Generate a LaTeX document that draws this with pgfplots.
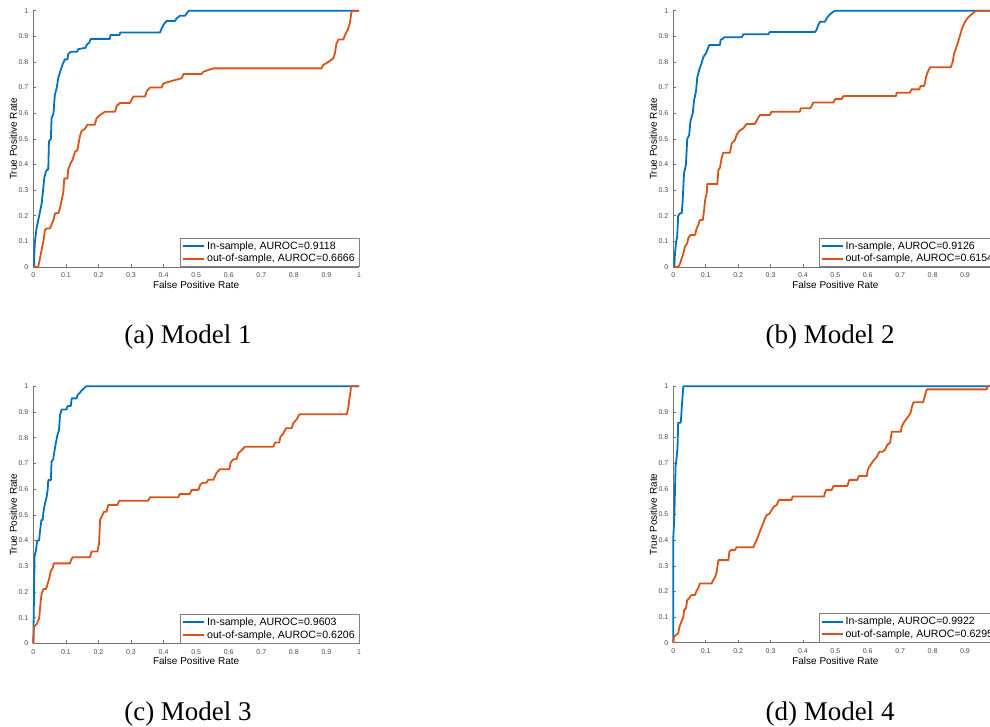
\documentclass[border=0pt]{standalone}
\usepackage{pgfplots}
\pgfplotsset{compat=1.18}
\usepackage{fontspec}
\setmainfont{Liberation Sans}
\newfontfamily\capfont{Liberation Serif}
\definecolor{mblue}{rgb}{0,0.447,0.741}
\definecolor{morange}{rgb}{0.85,0.325,0.098}
\pgfplotsset{
  roc/.style={
    scale only axis, anchor=south west,
    xmin=0, xmax=1, ymin=0, ymax=1, clip=false,
    axis lines*=left,
    axis line style={black!55, line width=0.5pt},
    tick align=inside, major tick length=3pt,
    tick style={black!55, line width=0.5pt},
    xtick={0,0.1,0.2,0.3,0.4,0.5,0.6,0.7,0.8,0.9,1},
    ytick={0,0.1,0.2,0.3,0.4,0.5,0.6,0.7,0.8,0.9,1},
    xticklabels={0,0.1,0.2,0.3,0.4,0.5,0.6,0.7,0.8,0.9,1},
    yticklabels={0,0.1,0.2,0.3,0.4,0.5,0.6,0.7,0.8,0.9,1},
    tick label style={font=\fontsize{7}{8}\selectfont, text=black!70},
    xticklabel style={yshift=-2.5pt},
    yticklabel style={xshift=-1.5pt},
    xlabel={False Positive Rate}, ylabel={True Positive Rate},
    label style={font=\fontsize{8}{9}\selectfont, text=black!70},
    every axis x label/.style={at={(axis description cs:0.5,0)}, anchor=center, yshift=-18pt},
    every axis y label/.style={at={(axis description cs:0,0.5)}, xshift=-20pt, rotate=90, anchor=center},
    legend style={at={(1,0)}, anchor=south east, draw=black!50, line width=0.5pt, fill=white,
      font=\fontsize{10.6}{12}\selectfont, inner xsep=2pt, inner ysep=1.5pt, row sep=-0.5pt,
      cells={anchor=west}},
    legend image code/.code={\draw[#1, line width=1.8pt] (0pt,0pt) -- (21pt,0pt);},
  },
  ib/.style={mblue, line width=1.8pt, line join=round},
  oo/.style={morange, line width=1.8pt, line join=round},
}
\begin{document}
\begin{tikzpicture}[x=1pt,y=1pt]
\useasboundingbox (0,0) rectangle (990,726);
\clip (0,0) rectangle (990,726);

% (a)
\begin{axis}[roc, at={(33.3pt,459pt)}, width=325.7pt, height=256.3pt]
\addplot[ib] coordinates {(0,0) (0.003,0) (0.003,0.05) (0.005,0.1) (0.01,0.15) (0.018,0.2) (0.026,0.25) (0.03,0.3) (0.034,0.35) (0.038,0.37) (0.042,0.38) (0.046,0.38) (0.048,0.49) (0.054,0.5) (0.056,0.58) (0.062,0.6) (0.066,0.67) (0.072,0.7) (0.077,0.74) (0.082,0.76) (0.09,0.79) (0.097,0.81) (0.105,0.81) (0.107,0.83) (0.115,0.84) (0.135,0.84) (0.138,0.85) (0.16,0.855) (0.166,0.87) (0.172,0.875) (0.176,0.89) (0.235,0.89) (0.237,0.905) (0.265,0.905) (0.267,0.915) (0.389,0.915) (0.394,0.93) (0.4,0.945) (0.409,0.96) (0.435,0.96) (0.44,0.97) (0.45,0.98) (0.466,0.98) (0.471,0.99) (0.478,1) (1,1)};
\addlegendentry{In-sample, AUROC=0.9118}
\addplot[oo] coordinates {(0,0) (0.015,0) (0.02,0.03) (0.026,0.07) (0.031,0.1) (0.036,0.145) (0.041,0.15) (0.051,0.15) (0.056,0.165) (0.061,0.18) (0.067,0.21) (0.077,0.21) (0.082,0.23) (0.087,0.26) (0.092,0.29) (0.095,0.345) (0.105,0.345) (0.107,0.38) (0.113,0.4) (0.121,0.42) (0.128,0.45) (0.135,0.455) (0.143,0.51) (0.148,0.53) (0.159,0.54) (0.166,0.555) (0.189,0.555) (0.194,0.58) (0.205,0.593) (0.22,0.606) (0.251,0.606) (0.256,0.628) (0.266,0.64) (0.297,0.64) (0.307,0.665) (0.343,0.665) (0.348,0.685) (0.358,0.70) (0.394,0.70) (0.399,0.716) (0.425,0.726) (0.455,0.736) (0.461,0.753) (0.517,0.753) (0.522,0.762) (0.553,0.775) (0.885,0.775) (0.89,0.788) (0.906,0.80) (0.921,0.814) (0.926,0.834) (0.931,0.873) (0.937,0.888) (0.952,0.888) (0.957,0.905) (0.967,0.93) (0.972,0.953) (0.977,0.996) (0.983,1) (1,1)};
\addlegendentry{out-of-sample, AUROC=0.6666}
\end{axis}

% (b)
\begin{axis}[roc, at={(673.3pt,459pt)}, width=324.1pt, height=256.3pt]
\addplot[ib] coordinates {(0,0) (0.003,0) (0.005,0.05) (0.008,0.09) (0.012,0.12) (0.015,0.2) (0.021,0.21) (0.026,0.21) (0.029,0.26) (0.033,0.365) (0.039,0.40) (0.043,0.5) (0.049,0.515) (0.053,0.57) (0.06,0.6) (0.064,0.65) (0.07,0.685) (0.074,0.74) (0.08,0.77) (0.087,0.795) (0.093,0.82) (0.101,0.834) (0.105,0.847) (0.111,0.866) (0.144,0.866) (0.146,0.886) (0.154,0.892) (0.156,0.896) (0.211,0.896) (0.216,0.908) (0.293,0.908) (0.298,0.917) (0.437,0.917) (0.442,0.925) (0.447,0.944) (0.453,0.957) (0.468,0.957) (0.473,0.97) (0.481,0.983) (0.489,0.992) (0.499,1) (1,1)};
\addlegendentry{In-sample, AUROC=0.9126}
\addplot[oo] coordinates {(0,0) (0.015,0) (0.021,0.014) (0.026,0.034) (0.031,0.053) (0.036,0.08) (0.043,0.092) (0.046,0.112) (0.053,0.125) (0.067,0.125) (0.072,0.15) (0.077,0.164) (0.082,0.183) (0.091,0.183) (0.095,0.222) (0.098,0.26) (0.103,0.287) (0.105,0.324) (0.136,0.324) (0.139,0.378) (0.144,0.388) (0.149,0.424) (0.154,0.446) (0.175,0.446) (0.18,0.482) (0.19,0.495) (0.195,0.515) (0.204,0.532) (0.216,0.541) (0.226,0.558) (0.252,0.558) (0.255,0.567) (0.267,0.593) (0.298,0.593) (0.303,0.606) (0.391,0.606) (0.393,0.619) (0.422,0.619) (0.427,0.628) (0.432,0.642) (0.494,0.642) (0.499,0.655) (0.519,0.655) (0.525,0.667) (0.687,0.667) (0.689,0.68) (0.73,0.68) (0.735,0.693) (0.759,0.693) (0.763,0.706) (0.774,0.706) (0.78,0.742) (0.784,0.758) (0.792,0.779) (0.856,0.779) (0.862,0.80) (0.866,0.831) (0.874,0.86) (0.879,0.879) (0.885,0.905) (0.89,0.927) (0.895,0.944) (0.903,0.963) (0.91,0.974) (0.918,0.983) (0.926,0.992) (0.934,1) (1,1)};
\addlegendentry{out-of-sample, AUROC=0.6154}
\end{axis}

% (c)
\begin{axis}[roc, at={(33.3pt,82.7pt)}, width=325.7pt, height=257pt]
\addplot[ib] coordinates {(0,0) (0.002,0.17) (0.004,0.34) (0.008,0.36) (0.012,0.40) (0.018,0.40) (0.02,0.43) (0.025,0.48) (0.029,0.48) (0.031,0.51) (0.036,0.545) (0.041,0.57) (0.044,0.597) (0.046,0.635) (0.054,0.635) (0.056,0.707) (0.061,0.716) (0.064,0.74) (0.069,0.778) (0.074,0.81) (0.079,0.83) (0.082,0.888) (0.087,0.91) (0.102,0.91) (0.105,0.923) (0.115,0.923) (0.118,0.953) (0.133,0.953) (0.136,0.966) (0.143,0.975) (0.148,0.983) (0.156,0.992) (0.162,1) (1,1)};
\addlegendentry{In-sample, AUROC=0.9603}
\addplot[oo] coordinates {(0,0) (0.002,0.065) (0.008,0.071) (0.012,0.078) (0.018,0.097) (0.023,0.169) (0.026,0.195) (0.031,0.211) (0.039,0.211) (0.043,0.227) (0.049,0.253) (0.053,0.279) (0.059,0.292) (0.063,0.311) (0.113,0.311) (0.116,0.324) (0.121,0.335) (0.174,0.335) (0.179,0.357) (0.197,0.357) (0.202,0.389) (0.205,0.48) (0.21,0.493) (0.217,0.512) (0.225,0.512) (0.23,0.538) (0.258,0.538) (0.264,0.555) (0.353,0.555) (0.358,0.568) (0.445,0.568) (0.45,0.581) (0.481,0.581) (0.486,0.597) (0.507,0.597) (0.512,0.616) (0.52,0.625) (0.532,0.625) (0.537,0.636) (0.553,0.636) (0.558,0.651) (0.563,0.664) (0.573,0.677) (0.602,0.677) (0.606,0.703) (0.614,0.716) (0.624,0.716) (0.629,0.739) (0.64,0.752) (0.65,0.765) (0.737,0.765) (0.742,0.781) (0.755,0.781) (0.759,0.804) (0.768,0.817) (0.776,0.837) (0.793,0.837) (0.798,0.856) (0.809,0.872) (0.817,0.891) (0.962,0.891) (0.967,0.914) (0.97,0.947) (0.974,0.979) (0.975,1) (1,1)};
\addlegendentry{out-of-sample, AUROC=0.6206}
\end{axis}

% (d)
\begin{axis}[roc, at={(673.3pt,83.3pt)}, width=324.1pt, height=256.4pt]
\addplot[ib] coordinates {(0,0) (0,0.41) (0.003,0.485) (0.007,0.687) (0.01,0.72) (0.013,0.758) (0.015,0.858) (0.023,0.858) (0.025,0.895) (0.027,0.934) (0.029,0.966) (0.031,1) (1,1)};
\addlegendentry{In-sample, AUROC=0.9922}
\addplot[oo] coordinates {(0,0) (0.002,0.023) (0.008,0.03) (0.015,0.036) (0.019,0.062) (0.026,0.086) (0.031,0.099) (0.033,0.127) (0.039,0.134) (0.043,0.166) (0.049,0.173) (0.053,0.182) (0.057,0.186) (0.067,0.186) (0.072,0.203) (0.077,0.212) (0.082,0.231) (0.118,0.231) (0.123,0.244) (0.129,0.255) (0.134,0.277) (0.139,0.322) (0.17,0.322) (0.173,0.355) (0.178,0.361) (0.19,0.361) (0.195,0.372) (0.247,0.372) (0.252,0.387) (0.257,0.4) (0.265,0.426) (0.269,0.44) (0.278,0.468) (0.283,0.485) (0.288,0.498) (0.296,0.502) (0.303,0.517) (0.311,0.531) (0.319,0.537) (0.326,0.557) (0.365,0.557) (0.368,0.57) (0.465,0.57) (0.469,0.589) (0.473,0.596) (0.489,0.596) (0.494,0.611) (0.537,0.611) (0.543,0.635) (0.568,0.635) (0.572,0.65) (0.597,0.65) (0.6,0.674) (0.605,0.687) (0.612,0.7) (0.619,0.713) (0.627,0.723) (0.636,0.745) (0.646,0.745) (0.653,0.752) (0.66,0.771) (0.669,0.78) (0.674,0.823) (0.702,0.823) (0.705,0.843) (0.71,0.856) (0.718,0.871) (0.725,0.882) (0.732,0.897) (0.736,0.918) (0.741,0.938) (0.771,0.938) (0.777,0.966) (0.782,0.988) (0.967,0.988) (0.969,1) (1,1)};
\addlegendentry{out-of-sample, AUROC=0.6295}
\end{axis}

\node[font=\capfont\fontsize{27}{30}\selectfont, anchor=base] at (188,382) {(a) Model 1};
\node[font=\capfont\fontsize{27}{30}\selectfont, anchor=base] at (830,382) {(b) Model 2};
\node[font=\capfont\fontsize{27}{30}\selectfont, anchor=base] at (188,6) {(c) Model 3};
\node[font=\capfont\fontsize{27}{30}\selectfont, anchor=base] at (830,6) {(d) Model 4};
\end{tikzpicture}
\end{document}
